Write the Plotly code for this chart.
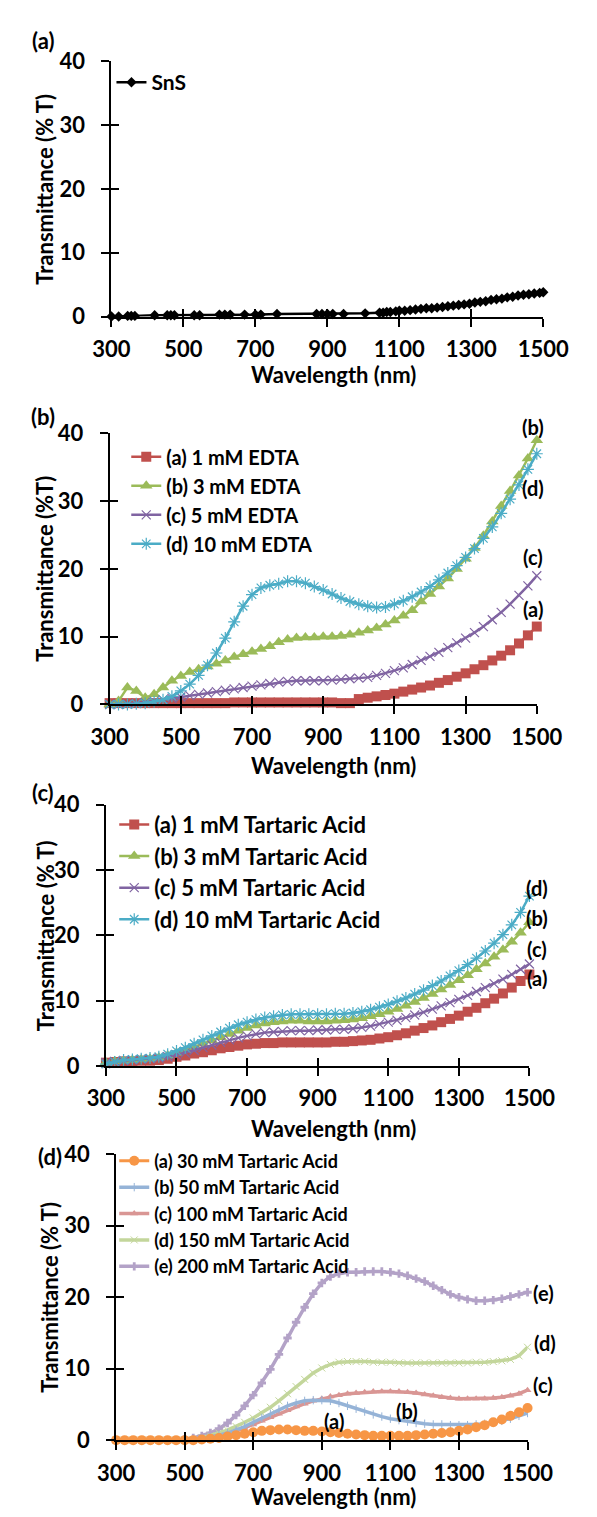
import plotly.graph_objects as go

W, H = 597, 1517
FONT = "Lato, 'Open Sans', sans-serif"

# ---------------- data ----------------
x_ticks = [300, 500, 700, 900, 1100, 1300, 1500]
y_ticks = [0, 10, 20, 30, 40]

# Panel (a) SnS
sns_wl = [300, 320, 345, 355, 365, 420, 455, 465, 475, 530, 545, 600, 615, 630, 670, 700, 715, 760,
          870, 885, 900, 915, 945, 1005, 1045, 1055, 1065, 1075, 1090, 1100, 1115, 1130, 1145, 1160,
          1175, 1190, 1205, 1220, 1235, 1250, 1265, 1280, 1295, 1310, 1325, 1340, 1355, 1370, 1385,
          1400, 1415, 1430, 1445, 1460, 1475, 1490, 1500]
sns_T = [0, 0, 0.1, 0.1, 0.1, 0.2, 0.2, 0.2, 0.2, 0.2, 0.2, 0.3, 0.3, 0.3, 0.3, 0.3, 0.3, 0.4,
         0.4, 0.4, 0.4, 0.4, 0.4, 0.5, 0.6, 0.6, 0.7, 0.7, 0.8, 0.9, 0.9, 1.0, 1.1, 1.2,
         1.3, 1.3, 1.4, 1.5, 1.6, 1.7, 1.8, 1.9, 2.0, 2.2, 2.3, 2.4, 2.6, 2.7, 2.8,
         3.0, 3.1, 3.3, 3.4, 3.5, 3.6, 3.7, 3.8]

# common wavelength grid for panels (b)-(d)
wl = [300, 325, 350, 375, 400, 425, 450,
      475, 500, 525, 550, 575, 600, 625,
      650, 675, 700, 725, 750, 775, 800,
      825, 850, 875, 900, 925, 950, 975,
      1000, 1025, 1050, 1075, 1100, 1125, 1150,
      1175, 1200, 1225, 1250, 1275, 1300, 1325,
      1350, 1375, 1400, 1425, 1450, 1475, 1500]

# Panel (b) EDTA
edta_1 = [0.2, 0.2, 0.2, 0.2, 0.2, 0.2, 0.2,
          0.2, 0.2, 0.2, 0.2, 0.2, 0.2, 0.2,
          0.3, 0.3, 0.3, 0.3, 0.3, 0.3, 0.3,
          0.3, 0.3, 0.3, 0.3, 0.3, 0.2, 0.2,
          0.8, 1.0, 1.2, 1.4, 1.6, 1.9, 2.2,
          2.5, 2.8, 3.2, 3.6, 4.1, 4.6, 5.2,
          5.8, 6.5, 7.2, 8.0, 9.0, 10.2, 11.5]
edta_3 = [0.0, 0.5, 2.5, 2.0, 1.0, 1.5, 2.5,
          3.5, 4.2, 4.8, 5.2, 5.6, 6.0, 6.5,
          7.0, 7.4, 7.8, 8.2, 8.6, 9.2, 9.6,
          9.8, 9.9, 9.9, 10.0, 10.0, 10.1, 10.3,
          10.6, 10.9, 11.3, 11.8, 12.4, 13.1, 13.9,
          15.2, 16.3, 17.4, 18.6, 20.0, 21.5, 23.1,
          24.9, 27.0, 29.3, 31.5, 33.8, 36.3, 39.0]
edta_5 = [0.0, 0.0, 0.1, 0.2, 0.3, 0.5, 0.7,
          0.9, 1.1, 1.3, 1.5, 1.7, 1.9, 2.1,
          2.3, 2.5, 2.7, 2.9, 3.1, 3.3, 3.4,
          3.5, 3.5, 3.5, 3.5, 3.6, 3.7, 3.8,
          3.9, 4.0, 4.3, 4.6, 5.0, 5.4, 5.9,
          6.5, 7.1, 7.7, 8.4, 9.1, 9.8, 10.6,
          11.5, 12.5, 13.6, 14.8, 16.1, 17.5, 19.0]
edta_10 = [0.0, 0.0, 0.0, 0.1, 0.2, 0.4, 0.7,
           1.2, 2.0, 3.0, 4.3, 5.8, 7.6, 9.8,
           12.2, 14.5, 16.2, 17.2, 17.6, 17.8, 18.2,
           18.2, 17.9, 17.4, 16.9, 16.3, 15.7, 15.2,
           14.8, 14.5, 14.3, 14.4, 14.8, 15.3, 15.9,
           16.6, 17.4, 18.4, 19.4, 20.5, 21.7, 23.0,
           24.5, 26.2, 28.2, 30.3, 32.4, 34.7, 37.0]

# Panel (c) Tartaric acid, low concentrations
ta_1 = [0.5, 0.6, 0.7, 0.7, 0.8, 0.8, 0.9,
        1.1, 1.4, 1.6, 1.9, 2.1, 2.4, 2.7,
        2.9, 3.1, 3.3, 3.4, 3.5, 3.5, 3.6,
        3.6, 3.6, 3.6, 3.6, 3.6, 3.7, 3.7,
        3.8, 3.9, 4.0, 4.2, 4.4, 4.7, 5.0,
        5.4, 5.8, 6.2, 6.7, 7.2, 7.7, 8.3,
        8.9, 9.6, 10.3, 11.1, 12.0, 13.0, 14.0]
ta_3 = [0.5, 0.7, 0.8, 0.9, 1.0, 1.1, 1.3,
        1.6, 2.0, 2.4, 2.9, 3.4, 3.9, 4.4,
        4.9, 5.4, 5.8, 6.2, 6.5, 6.7, 6.8,
        6.9, 6.9, 6.8, 6.8, 6.8, 6.9, 7.0,
        7.1, 7.3, 7.6, 7.9, 8.3, 8.7, 9.2,
        9.8, 10.4, 11.0, 11.7, 12.4, 13.1, 13.9,
        14.8, 15.7, 16.7, 17.8, 19.0, 20.4, 22.0]
ta_5 = [0.5, 0.7, 0.8, 0.9, 1.0, 1.1, 1.2,
        1.4, 1.7, 2.0, 2.4, 2.8, 3.2, 3.6,
        4.0, 4.3, 4.6, 4.9, 5.1, 5.2, 5.3,
        5.4, 5.4, 5.4, 5.5, 5.5, 5.6, 5.6,
        5.7, 5.9, 6.1, 6.4, 6.7, 7.0, 7.4,
        7.8, 8.2, 8.7, 9.2, 9.7, 10.2, 10.8,
        11.4, 12.0, 12.6, 13.3, 14.0, 14.8, 15.6]
ta_10 = [0.3, 0.6, 0.9, 1.0, 1.1, 1.2, 1.4,
         1.8, 2.3, 2.8, 3.4, 4.0, 4.6, 5.2,
         5.8, 6.3, 6.7, 7.1, 7.4, 7.6, 7.8,
         7.9, 7.9, 7.9, 7.9, 7.9, 8.0, 8.0,
         8.1, 8.3, 8.6, 9.0, 9.4, 9.9, 10.4,
         11.0, 11.6, 12.3, 13.0, 13.8, 14.6, 15.5,
         16.5, 17.6, 18.8, 20.1, 21.6, 23.5, 26.0]

# Panel (d) Tartaric acid, high concentrations
ta_30 = [0, 0, 0, 0, 0, 0, 0,
         0, 0, 0, 0.1, 0.2, 0.3, 0.5,
         0.7, 0.9, 1.1, 1.3, 1.4, 1.5, 1.5,
         1.4, 1.3, 1.3, 1.2, 1.1, 1.0, 0.9,
         0.8, 0.7, 0.6, 0.6, 0.6, 0.6, 0.6,
         0.7, 0.8, 0.9, 1.0, 1.1, 1.3, 1.5,
         1.8, 2.1, 2.5, 2.9, 3.4, 3.9, 4.5]
ta_50 = [0, 0, 0, 0, 0, 0, 0,
         0, 0, 0.1, 0.2, 0.4, 0.7, 1.0,
         1.4, 1.9, 2.5, 3.1, 3.7, 4.3, 4.8,
         5.2, 5.5, 5.6, 5.6, 5.5, 5.2, 4.8,
         4.4, 4.0, 3.6, 3.3, 3.0, 2.8, 2.6,
         2.4, 2.3, 2.2, 2.2, 2.1, 2.1, 2.1,
         2.2, 2.3, 2.5, 2.7, 3.0, 3.4, 3.8]
ta_100 = [0, 0, 0, 0, 0, 0, 0,
          0, 0, 0.1, 0.2, 0.4, 0.6, 0.9,
          1.3, 1.7, 2.2, 2.7, 3.2, 3.7, 4.2,
          4.7, 5.1, 5.5, 5.8, 6.1, 6.3, 6.5,
          6.6, 6.7, 6.8, 6.8, 6.8, 6.8, 6.7,
          6.6, 6.4, 6.2, 6.0, 5.9, 5.8, 5.8,
          5.8, 5.8, 5.9, 6.0, 6.2, 6.5, 7.0]
ta_150 = [0, 0, 0, 0, 0, 0, 0,
          0, 0, 0.1, 0.3, 0.6, 1.0, 1.4,
          1.9, 2.5, 3.1, 3.8, 4.6, 5.5, 6.5,
          7.5, 8.5, 9.4, 10.1, 10.6, 10.9, 11.0,
          11.0, 11.0, 10.9, 10.9, 10.9, 10.8, 10.8,
          10.8, 10.8, 10.8, 10.8, 10.8, 10.8, 10.8,
          10.9, 10.9, 11.0, 11.1, 11.3, 11.8, 13.0]
ta_200 = [0, 0, 0, 0, 0, 0, 0,
          0, 0.1, 0.3, 0.6, 1.0, 1.6, 2.4,
          3.5, 4.8, 6.3, 8.0, 9.9, 12.0, 14.3,
          16.5, 18.6, 20.5, 22.0, 22.9, 23.3, 23.5,
          23.5, 23.6, 23.6, 23.6, 23.5, 23.3, 23.0,
          22.6, 22.2, 21.6, 21.0, 20.4, 20.0, 19.7,
          19.5, 19.5, 19.6, 19.8, 20.1, 20.4, 20.7]

# curve labels: (panel, text, wavelength, transmittance)
curve_labels = [
    (2, "(b)", 1490, 41.0), (2, "(d)", 1490, 31.9), (2, "(c)", 1490, 21.7), (2, "(a)", 1490, 14.1),
    (3, "(d)", 1521, 27.2), (3, "(b)", 1521, 22.6), (3, "(c)", 1521, 17.9), (3, "(a)", 1521, 13.4),
    (4, "(e)", 1546, 20.6), (4, "(d)", 1551, 13.6), (4, "(c)", 1546, 7.7),
    (4, "(a)", 936, 2.7), (4, "(b)", 1147, 4.1),
]

# ---------------- figure ----------------
fig = go.Figure()


def add(i, x, y, name, color, symbol, size, lw, legend, mlw=0, open_sym=False):
    marker = dict(symbol=symbol, size=size, color=color)
    if open_sym:
        marker["line"] = dict(color=color, width=mlw)
    fig.add_trace(go.Scatter(
        x=x, y=y, name=name, mode="lines+markers",
        line=dict(color=color, width=lw), marker=marker,
        xaxis=f"x{i}", yaxis=f"y{i}", legend=legend, cliponaxis=False))


# (a)
add(1, sns_wl, sns_T, "SnS", "#000000", "diamond", 8, 2.5, "legend")
# (b)
add(2, wl, edta_1, "(a) 1 mM EDTA", "#C0504D", "square", 10, 2.5, "legend2")
add(2, wl, edta_3, "(b) 3 mM EDTA", "#9BBB59", "triangle-up", 11, 2.5, "legend2")
add(2, wl, edta_5, "(c) 5 mM EDTA", "#8064A2", "x-thin-open", 9, 2.5, "legend2", 1.2, True)
add(2, wl, edta_10, "(d) 10 mM EDTA", "#4BACC6", "asterisk-open", 10, 2.5, "legend2", 1.2, True)
# (c)
add(3, wl, ta_1, "(a) 1 mM Tartaric Acid", "#C0504D", "square", 10, 2.5, "legend3")
add(3, wl, ta_3, "(b) 3 mM Tartaric Acid", "#9BBB59", "triangle-up", 11, 2.5, "legend3")
add(3, wl, ta_5, "(c) 5 mM Tartaric Acid", "#8064A2", "x-thin-open", 9, 2.5, "legend3", 1.2, True)
add(3, wl, ta_10, "(d) 10 mM Tartaric Acid", "#4BACC6", "asterisk-open", 10, 2.5, "legend3", 1.2, True)
# (d)  drawn (e)->(a) so (a) is on top; legend reversed
add(4, wl, ta_200, "(e) 200 mM Tartaric Acid", "#B3A2C7", "cross", 7, 3.5, "legend4")
add(4, wl, ta_150, "(d) 150 mM Tartaric Acid", "#C3D69B", "x-thin-open", 7, 3.5, "legend4", 1, True)
add(4, wl, ta_100, "(c) 100 mM Tartaric Acid", "#D99694", "triangle-up", 7, 3.5, "legend4")
add(4, wl, ta_50, "(b) 50 mM Tartaric Acid", "#95B3D7", "line-ns-open", 6, 3.5, "legend4", 1, True)
add(4, wl, ta_30, "(a) 30 mM Tartaric Acid", "#F79646", "circle", 10, 3, "legend4")

# overlay axes give the Excel-style crossing tick marks
for i in range(5, 9):
    fig.add_trace(go.Scatter(x=[], y=[], xaxis=f"x{i}", yaxis=f"y{i}",
                             showlegend=False, hoverinfo="skip"))

# panel geometry in pixels: (x_left, x_right, y_top, y_bottom)
panels = [(100, 567, 48, 308), (98, 560, 427, 703), (94, 552, 805, 1071), (105, 550, 1161, 1452)]
X_RANGE = [300, 1500]
Y_RANGE = [0, 40]
tickfont = dict(family=FONT, size=22, color="black", weight="bold")

layout = dict(width=W, height=H, margin=dict(l=0, r=0, t=0, b=0),
              paper_bgcolor="white", plot_bgcolor="white", showlegend=True,
              font=dict(family=FONT, color="black"))
for i, (xl, xr, yt, yb) in enumerate(panels, start=1):
    xd = [xl / W, xr / W]
    yd = [1 - yb / H, 1 - yt / H]
    layout[f"xaxis{i}"] = dict(domain=xd, anchor=f"y{i}", range=X_RANGE, tickvals=x_ticks,
                               ticks="outside", ticklen=8, tickwidth=2, tickcolor="black",
                               showline=True, linecolor="black", linewidth=2,
                               showgrid=False, zeroline=False, tickfont=tickfont,
                               ticklabelstandoff=4)
    layout[f"yaxis{i}"] = dict(domain=yd, anchor=f"x{i}", range=Y_RANGE, tickvals=y_ticks,
                               ticks="outside", ticklen=8, tickwidth=2, tickcolor="black",
                               showline=True, linecolor="black", linewidth=2,
                               showgrid=False, zeroline=False, tickfont=tickfont,
                               ticklabelstandoff=12)
    j = i + 4
    layout[f"xaxis{j}"] = dict(overlaying=f"x{i}", anchor=f"y{j}", range=X_RANGE,
                               tickvals=x_ticks, ticks="inside", ticklen=8, tickwidth=2,
                               tickcolor="black", showticklabels=False, showline=False,
                               showgrid=False, zeroline=False)
    layout[f"yaxis{j}"] = dict(overlaying=f"y{i}", anchor=f"x{j}", range=Y_RANGE,
                               tickvals=y_ticks, ticks="inside", ticklen=8, tickwidth=2,
                               tickcolor="black", showticklabels=False, showline=False,
                               showgrid=False, zeroline=False)


def legfont(size):
    return dict(family=FONT, size=size, color="black", weight="bold")


layout["legend"] = dict(x=100 / W, y=1 - 49 / H, xanchor="left", yanchor="top",
                        bgcolor="rgba(0,0,0,0)", font=legfont(21), itemwidth=30)
layout["legend2"] = dict(x=116 / W, y=1 - 431 / H, xanchor="left", yanchor="top",
                         bgcolor="rgba(0,0,0,0)", font=legfont(20), itemwidth=30)
layout["legend3"] = dict(x=103 / W, y=1 - 804 / H, xanchor="left", yanchor="top",
                         bgcolor="rgba(0,0,0,0)", font=legfont(22), itemwidth=30)
layout["legend4"] = dict(x=103 / W, y=1 - 1149 / H, xanchor="left", yanchor="top",
                         bgcolor="rgba(0,0,0,0)", font=legfont(18),
                         itemwidth=30, traceorder="reversed")
fig.update_layout(**layout)

lab = dict(family=FONT, size=22, color="black", weight="bold")
curve_font = dict(family=FONT, size=20, color="black", weight="bold")
ann = []
ytitles = ["Transmittance (% T)", "Transmittance (%T)", "Transmittance (% T)", "Transmittance (% T)"]
ytitle_x = [28, 28, 28, 33]
xtitle_y = [367, 765, 1135, 1509]
for i, (xl, xr, yt, yb) in enumerate(panels, start=1):
    ann.append(dict(text=ytitles[i - 1], xref="paper", yref="paper",
                    x=ytitle_x[i - 1] / W, y=1 - (yt + yb) / 2 / H, textangle=-90,
                    showarrow=False, font=lab, xanchor="center", yanchor="middle"))
    ann.append(dict(text="Wavelength (nm)", xref="paper", yref="paper",
                    x=340 / W, y=1 - xtitle_y[i - 1] / H,
                    showarrow=False, font=lab, xanchor="center", yanchor="middle"))
for txt, px, py in [("(a)", 26, 27), ("(b)", 26, 410), ("(c)", 26, 793), ("(d)", 34, 1163)]:
    ann.append(dict(text=txt, xref="paper", yref="paper", x=px / W, y=1 - py / H,
                    showarrow=False, font=lab, xanchor="center", yanchor="middle"))
# curve labels placed through the axis-domain scale (so labels beyond the range still show)
for i, t, x, y in curve_labels:
    ann.append(dict(text=t, xref=f"x{i} domain", yref=f"y{i} domain",
                    x=(x - X_RANGE[0]) / (X_RANGE[1] - X_RANGE[0]),
                    y=(y - Y_RANGE[0]) / (Y_RANGE[1] - Y_RANGE[0]),
                    showarrow=False, font=curve_font, xanchor="center", yanchor="middle"))
fig.update_layout(annotations=ann)

fig.write_html("out.html")
